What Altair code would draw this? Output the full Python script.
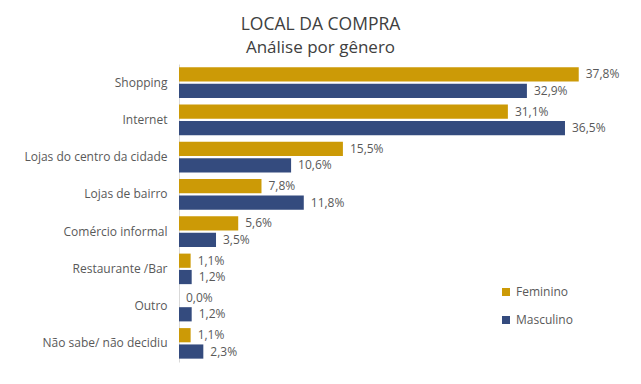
import altair as alt
import pandas as pd

categories = ["Shopping", "Internet", "Lojas do centro da cidade", "Lojas de bairro",
              "Comércio informal", "Restaurante /Bar", "Outro", "Não sabe/ não decidiu"]
feminino = [37.8, 31.1, 15.5, 7.8, 5.6, 1.1, 0.0, 1.1]
masculino = [32.9, 36.5, 10.6, 11.8, 3.5, 1.2, 1.2, 2.3]
genders = ["Feminino", "Masculino"]
colors = ["#CC9A06", "#344B7E"]

rows = []
for c, f, m in zip(categories, feminino, masculino):
    for g, v in zip(genders, [f, m]):
        rows.append({"cat": c, "gen": g, "val": v,
                     "lbl": f"{v:.1f}%".replace(".", ",")})
df = pd.DataFrame(rows)

FONT = "Open Sans"

y = alt.Y("cat:N", sort=categories, title=None,
          scale=alt.Scale(paddingInner=0.18, paddingOuter=0.09),
          axis=alt.Axis(ticks=False, labelPadding=12, domainColor="#D9D9D9",
                        labelColor="#595959", labelFontSize=12, labelFont=FONT,
                        labelLimit=300))
yoff = alt.YOffset("gen:N", sort=genders, scale=alt.Scale(paddingInner=0.13))
x = alt.X("val:Q", scale=alt.Scale(domain=[0, 40]), axis=None)

base = alt.Chart(df)
bars = base.mark_bar().encode(
    x=x, y=y, yOffset=yoff,
    color=alt.Color("gen:N", sort=genders,
                    scale=alt.Scale(domain=genders, range=colors),
                    legend=alt.Legend(title=None, orient="none", legendX=321, legendY=222,
                                      symbolType="square", symbolSize=64,
                                      symbolStrokeWidth=0, rowPadding=16,
                                      labelFontSize=12, labelColor="#595959",
                                      labelFont=FONT, labelOffset=4)),
)
text = base.mark_text(align="left", baseline="middle", dx=7, fontSize=12,
                      color="#595959", font=FONT).encode(
    x=x, y=y, yOffset=yoff, text="lbl:N")

chart = alt.layer(bars, text).properties(
    width=423, height=298,
    title=alt.TitleParams("LOCAL DA COMPRA", subtitle="Análise por gênero",
                          anchor="middle", dx=-70, fontSize=17.5, subtitleFontSize=17,
                          font=FONT, subtitleFont=FONT, fontWeight="normal",
                          color="#404040", subtitleColor="#404040",
                          offset=8, subtitlePadding=7),
    autosize=alt.AutoSizeParams(type="none"),
    padding={"left": 171, "top": 56, "right": 31, "bottom": 14},
    background="white",
).configure_view(stroke=None)

chart.save("out.html", embed_options={"renderer": "svg", "actions": False})
